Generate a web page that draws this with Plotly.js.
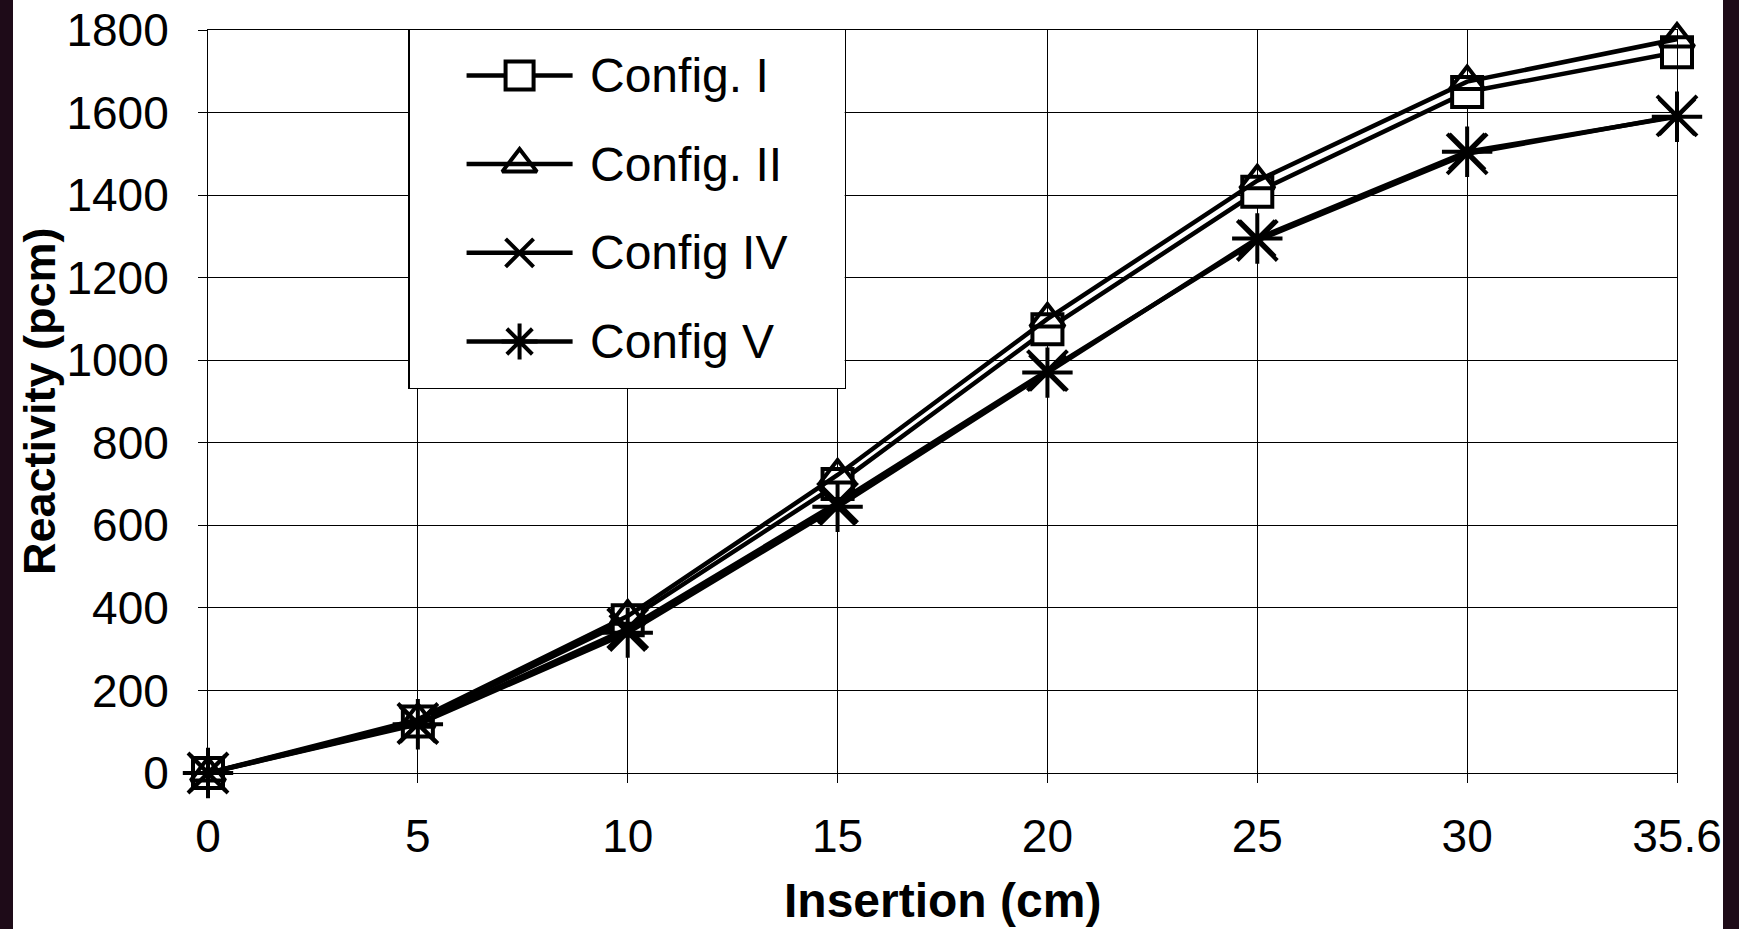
<!DOCTYPE html>
<html>
<head>
<meta charset="utf-8">
<script src="https://cdn.plot.ly/plotly-3.0.1.min.js"></script>
<style>
  html, body { margin: 0; padding: 0; background: #1e0b18; width: 1739px; height: 929px; overflow: hidden; }
  #chart { position: absolute; left: 13px; top: 0; width: 1710px; height: 929px; background: #ffffff; }
</style>
</head>
<body>
<div id="chart"></div>
<script>
// ---- data ----
const insertion = ['0', '5', '10', '15', '20', '25', '30', '35.6'];
const configI   = [0, 125, 370, 700, 1075, 1408, 1650, 1746];
const configII  = [0, 130, 380, 722, 1100, 1435, 1675, 1778];
const configIV  = [0, 120, 350, 655, 975, 1290, 1500, 1592];
const configV   = [0, 118, 340, 645, 970, 1295, 1505, 1590];
const seriesNames = ['Config. I', 'Config. II', 'Config IV', 'Config V'];
const yTicks = [0, 200, 400, 600, 800, 1000, 1200, 1400, 1600, 1800];

const FONT = '"Liberation Sans", Arial, sans-serif';
const series = [configI, configII, configIV, configV];
const styles = [
  {symbol: 'square', size: 30, fill: '#ffffff', lsize: 28},
  {symbol: 'triangle-up-open', size: 30, fill: '#000000', lsize: 30},
  {symbol: 'x-thin-open', size: 40, fill: '#000000', lsize: 28},
  {symbol: 'asterisk-open', size: 42, fill: '#000000', lsize: 30}
];

const traces = [];
series.forEach((vals, i) => {
  traces.push({
    type: 'scatter', mode: 'lines+markers',
    x: insertion, y: vals, name: seriesNames[i],
    cliponaxis: false, showlegend: false,
    line: {color: '#000000', width: 4.5},
    marker: {symbol: styles[i].symbol, size: styles[i].size, color: styles[i].fill,
             line: {color: '#000000', width: 4}}
  });
});

// custom legend: a boxed helper subplot holding one line+marker sample per series
const legendAnn = [];
seriesNames.forEach((nm, i) => {
  traces.push({
    type: 'scatter', mode: 'lines', xaxis: 'x2', yaxis: 'y2',
    x: [0, 2], y: [i, i], showlegend: false, hoverinfo: 'skip',
    line: {color: '#000000', width: 4.5}
  });
  traces.push({
    type: 'scatter', mode: 'markers', xaxis: 'x2', yaxis: 'y2',
    x: [1], y: [i], showlegend: false, hoverinfo: 'skip', cliponaxis: false,
    marker: {symbol: styles[i].symbol, size: styles[i].lsize, color: styles[i].fill,
             line: {color: '#000000', width: 4}}
  });
  legendAnn.push({
    xref: 'x2', yref: 'y2', x: 2.3, y: i, xanchor: 'left', yanchor: 'middle',
    text: nm, showarrow: false, font: {family: FONT, size: 48, color: '#000000'}
  });
});

const helperAxis = {
  showgrid: false, zeroline: false, showticklabels: false, ticks: '',
  showline: true, mirror: true, linecolor: '#000000', linewidth: 1.5, fixedrange: true
};

const layout = {
  width: 1710, height: 929,
  margin: {l: 195, r: 46, t: 30, b: 156},
  paper_bgcolor: '#ffffff', plot_bgcolor: '#ffffff',
  showlegend: false,
  font: {family: FONT, size: 46, color: '#000000'},
  xaxis: {
    type: 'category', categoryorder: 'array', categoryarray: insertion,
    range: [0, 7], showgrid: true, gridcolor: '#000000', gridwidth: 1,
    showline: true, linecolor: '#000000', linewidth: 1, mirror: true,
    ticks: 'outside', ticklen: 9, tickcolor: '#000000', tickwidth: 1,
    tickfont: {family: FONT, size: 46, color: '#000000'},
    ticklabelstandoff: 14, zeroline: false, fixedrange: true
  },
  yaxis: {
    range: [0, 1800], tickvals: yTicks, ticktext: yTicks.map(String),
    showgrid: true, gridcolor: '#000000', gridwidth: 1,
    showline: true, linecolor: '#000000', linewidth: 1, mirror: true,
    ticks: 'outside', ticklen: 9, tickcolor: '#000000', tickwidth: 1,
    tickfont: {family: FONT, size: 46, color: '#000000'},
    ticklabelstandoff: 20, zeroline: false, fixedrange: true
  },
  xaxis2: Object.assign({domain: [0.1372, 0.4334], range: [-1.0755, 7.132], anchor: 'y2'}, helperAxis),
  yaxis2: Object.assign({domain: [0.5182, 1], range: [3.524, -0.512], anchor: 'x2'}, helperAxis),
  annotations: legendAnn.concat([
    {xref: 'paper', yref: 'paper', x: 0.5, y: -0.171, xanchor: 'center', yanchor: 'middle',
     text: 'Insertion (cm)', showarrow: false,
     font: {family: FONT, size: 48, color: '#000000', weight: 'bold'}},
    {xref: 'paper', yref: 'paper', x: -0.1147, y: 0.5, xanchor: 'center', yanchor: 'middle',
     text: 'Reactivity (pcm)', textangle: -90, showarrow: false,
     font: {family: FONT, size: 45, color: '#000000', weight: 'bold'}}
  ])
};

Plotly.newPlot('chart', traces, layout, {displayModeBar: false, staticPlot: true});
</script>
</body>
</html>
